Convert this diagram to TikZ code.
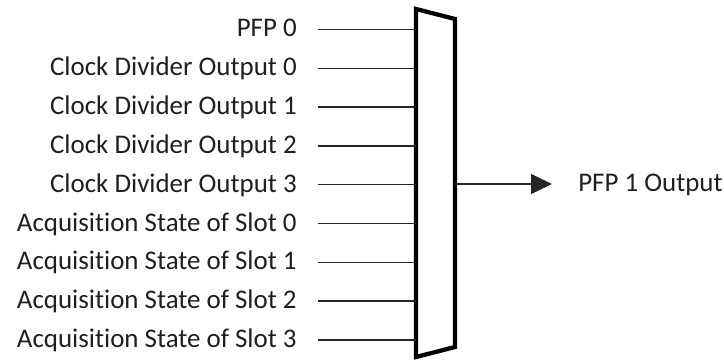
\documentclass[tikz,border=0pt]{standalone}
\usepackage{fontspec}
\setmainfont{Carlito}[Ligatures=NoCommon]
\usetikzlibrary{arrows.meta}
\begin{document}
\begin{tikzpicture}[x=0.75pt,y=-0.75pt,
  lbl/.style={inner sep=0pt, font=\fontsize{20.2}{24}\selectfont, text=black!88},
  wire/.style={line width=1pt, draw=black!85},
  muxbox/.style={line width=3.2pt, line join=miter, draw=black}]
\useasboundingbox (0,0) rectangle (724,360);
\draw[muxbox] (416,9) coordinate (mtl) -- (455,19) coordinate (mtr) -- (455,347) coordinate (mbr) -- (416,357) coordinate (mbl) -- cycle;
\foreach \txt [count=\i from 0] in {PFP 0,Clock Divider Output 0,Clock Divider Output 1,Clock Divider Output 2,Clock Divider Output 3,Acquisition State of Slot 0,Acquisition State of Slot 1,Acquisition State of Slot 2,Acquisition State of Slot 3}{
  \pgfmathsetmacro\yy{29.5+38.8*\i}
  \node[lbl, anchor=base east] (l\i) at (297,\yy+7.5) {\txt};
  \coordinate (s\i) at (318,\yy);
  \coordinate (e\i) at (416,\yy);
  \draw[wire] (s\i) -- (e\i);
}
\coordinate (out) at (455,184);
\coordinate (tip) at (552,184);
\draw[wire, -{Triangle[length=15.75pt,width=15pt]}] (out) -- (tip);
\node[lbl, anchor=base west] (outl) at (578,191.7) {PFP 1 Output};
\end{tikzpicture}
\end{document}
